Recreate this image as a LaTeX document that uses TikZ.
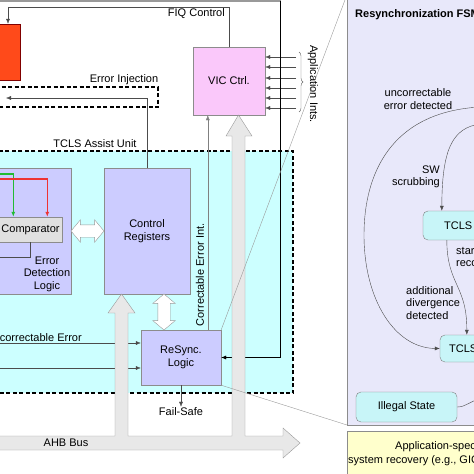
\documentclass[tikz,border=0pt]{standalone}
\usepackage{fontspec}
\setmainfont{Liberation Sans}
\usetikzlibrary{calc,arrows.meta,shapes.arrows,decorations.pathreplacing}
\definecolor{tclscyan}{HTML}{CCFFFF}
\definecolor{lav}{HTML}{CCCCFF}
\definecolor{vicpink}{HTML}{FAC8FA}
\definecolor{fsmbg}{HTML}{E8E8FA}
\definecolor{stcyan}{HTML}{C8F5F8}
\definecolor{appyel}{HTML}{FFFFCC}
\definecolor{cpured}{HTML}{FF4A1A}
\definecolor{busgray}{HTML}{E8E8E8}
\definecolor{sigred}{HTML}{EE3333}
\definecolor{siggreen}{HTML}{22BB33}

\begin{document}
\begin{tikzpicture}[x=1pt,y=-1pt,
  every node/.style={font=\fontsize{11}{12.5}\selectfont, inner sep=1pt},
  blk/.style={draw=black!45, inner sep=0pt},
  sig/.style={draw=black!70, -{Latex[length=5pt,width=4pt]}},
  wire/.style={draw=black!70},
  dashbox/.style={draw=black, line width=1.5pt, dash pattern=on 4pt off 2.5pt},
  hollow/.style={double arrow, draw=black!40, fill=white, inner sep=0pt, inner ysep=6pt,
    double arrow head extend=5pt, double arrow tip angle=100, minimum height=#1},
  bus/.style={draw=black!40, fill=busgray},
  stbox/.style={draw=black!50, fill=stcyan, rounded corners=5pt, inner sep=0pt},
  zoomline/.style={draw=black!40, line width=0.4pt}
]
\useasboundingbox (0,0) rectangle (474,474);
\clip (0,0) rectangle (474,474);
% containers
\draw[dashbox, fill=tclscyan] (-5,151) rectangle (293,393);
\node (tclslbl) at (95,144) {TCLS Assist Unit};
\node[blk, fill=fsmbg, minimum width=153, minimum height=430, anchor=south west] (fsm) at (347,425) {};
\draw[draw=black!40, line width=2pt] (-2,1) -- (281,1);
% processor side
\node[blk, draw=red!50!black, fill=cpured, minimum width=24, minimum height=56] (cpu) at (8,52) {};
\node[blk, fill=vicpink, minimum width=72, minimum height=68] (vic) at (229,81) {VIC Ctrl.};
\draw[sig] (vic.north) |- ($(cpu.north)+(0,-17)$) -- (cpu.north);
\node[anchor=east] (fiqlbl) at (226,14) {FIQ Control};
\foreach \y in {57,67,78,88,98,108}
  \draw[sig] (296,\y) -- (vic.east |- 0,\y);
\draw[draw=black!60, decorate, decoration={brace, amplitude=4pt}] (299,52) -- (299,112);
\node[rotate=-90] (applbl) at (313,84) {Application Ints.};
% error injection
\draw[dashbox] (-5,87) -- (158,87) -- (158,107) -- (-5,107);
\node (errinjlbl) at (124,80) {Error Injection};
% TCLS assist unit
\node[blk, fill=lav, minimum width=81, minimum height=126] (edl) at (30.5,231) {};
\node[align=center] (edllbl) at (47,274) {Error\\Detection\\Logic};
\node[blk, fill=black!12, minimum width=64, minimum height=25] (cmp) at (30.5,229.5) {Comparator};
\draw[sig, draw=siggreen, line width=1.2pt] (-2,174) -| ($(cmp.north west)+(15,0)$);
\draw[sig, draw=sigred, line width=1.2pt] (-2,179) -| ($(cmp.north west)+(49,0)$);
\draw[wire] (cmp.south) |- (-2,257);
\node[blk, fill=lav, minimum width=86, minimum height=126, align=center] (ctrl) at (147,231) {Control\\Registers};
\node[blk, fill=lav, minimum width=80, minimum height=55, align=center] (resync) at (181,357.5) {ReSync.\\Logic};
\draw[sig] (ctrl.north) |- (6,98);
\node[hollow=33] (edl2ctrl) at ($(edl.east)!0.5!(ctrl.west)$) {};
\node[hollow=36, rotate=90] (ctrl2rs) at ($(ctrl.south)!0.5!(resync.north)$) {};
\node[anchor=east] (uelbl) at (83,338) {Uncorrectable Error};
\draw[sig] (-2,343) -- (resync.west |- 0,343);
\draw[sig] (-2,368) -- (resync.west |- 0,368);
\node (failsafe) at (181,412) {Fail-Safe};
\draw[sig] (resync.south) -- (failsafe.north);
\coordinate (cei) at ($(resync.north west)+(67,0)$);
\draw[sig, draw=black!50] (cei) -- (cei |- vic.south);
\node[rotate=90] (ceilbl) at (200,275) {Correctable Error Int.};
\draw[sig, draw=black] (280,1) |- (resync.east);
% AHB bus
\draw[bus] (-3,436) -- (115,436) -- (115,313) -- (108,313) -- (121.5,294) -- (135,313) -- (128,313)
  -- (128,436) -- (232,436) -- (232,136) -- (226,136) -- (238.5,115) -- (252,136) -- (245,136)
  -- (245,436) -- (283,436) -- (283,428) -- (300,443) -- (283,458) -- (283,450) -- (-3,450) -- cycle;
\node (buslbl) at (66,443) {AHB Bus};
% zoom lines
\draw[zoomline] (resync.north east) -- (fsm.north west);
\draw[zoomline] (resync.south east) -- (fsm.south west);
% FSM
\node[anchor=west, font=\bfseries\fontsize{11}{12.5}\selectfont] (fsmtitle) at (354,15) {Resynchronization FSM};
\node[stbox, minimum width=77, minimum height=29] (tcls1) at (461.5,225.5) {};
\node[anchor=west] (tcls1txt) at (443,225.5) {TCLS};
\node[stbox, minimum width=60, minimum height=27] (tcls2) at (470,348.5) {};
\node[anchor=west] (tcls2txt) at (448,348.5) {TCLS};
\node[stbox, minimum width=101, minimum height=30] (illegal) at (406.5,407) {Illegal State};
\node[align=center] (uncorr) at (418,99) {uncorrectable\\error detected};
\node[align=right, anchor=east] (swscrub) at (441,177) {SW\\scrubbing};
\node[align=left, anchor=west] (startrec) at (455,258) {start\\recovery};
\node[align=left, anchor=west] (adddiv) at (405,303) {additional\\divergence\\detected};
\draw[sig] (480,107) .. controls (390,112) and (364,175) .. (364,235) .. controls (364,300) and (395,348) .. (tcls2.west);
\draw[sig] (480,124) .. controls (452,128) and (442,150) .. ($(tcls1.north west)+(19,0)$);
\draw[sig] ($(tcls1.south west)+(24,0)$) .. controls (447,285) and (467,285) .. ($(tcls2.north west)+(27,0)$);
\draw[wire] (illegal.east) .. controls (466,407) and (470,401) .. (480,399);
% recovery box
\node[blk, fill=appyel, minimum width=153, minimum height=50, anchor=north west] (appbox) at (347,431) {};
\node[anchor=west] (applbl1) at (394,447) {Application-specific};
\node[anchor=west] (applbl2) at (347,461) {system recovery (e.g., GIC reset)};
\end{tikzpicture}
\end{document}
